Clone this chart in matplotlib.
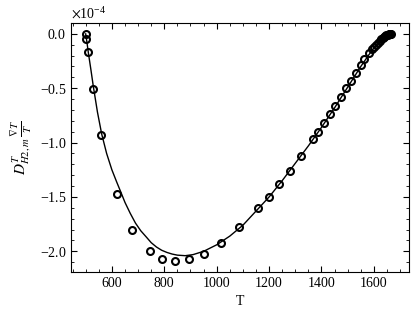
import matplotlib
matplotlib.use("Agg")
import matplotlib.pyplot as plt
from matplotlib.ticker import AutoMinorLocator

plt.rcParams['font.family'] = ['Liberation Serif', 'DejaVu Serif']
plt.rcParams['mathtext.fontset'] = 'stix'
plt.rcParams['font.size'] = 10

# scatter data (values in units of 1e-4)
T_pts = [500, 503, 508, 529, 558, 618, 676, 744, 793, 842, 894, 952, 1015, 1085,
         1158, 1199, 1239, 1279, 1323, 1368, 1387, 1410, 1432, 1452, 1473, 1493,
         1512, 1530, 1549, 1564, 1581, 1594, 1600, 1608, 1615, 1622, 1628, 1634,
         1639, 1644, 1648, 1652, 1656, 1660, 1663, 1666]
V_pts = [0.0, -0.046, -0.166, -0.51, -0.927, -1.47, -1.80, -1.995, -2.07, -2.09,
         -2.07, -2.02, -1.92, -1.78, -1.60, -1.50, -1.38, -1.26, -1.12, -0.97,
         -0.90, -0.82, -0.74, -0.66, -0.577, -0.50, -0.43, -0.356, -0.29, -0.233,
         -0.178, -0.138, -0.12, -0.10, -0.08, -0.065, -0.05, -0.038, -0.028,
         -0.02, -0.013, -0.008, -0.004, -0.002, -0.001, 0.0]

# model line
T_line = [500, 505, 510, 520, 529, 545, 561, 580, 600, 618, 635, 650, 670, 690,
          710, 732, 750, 770, 790, 810, 830, 850, 880, 910, 950, 1000, 1050,
          1100, 1150, 1200, 1250, 1300, 1350, 1400, 1450, 1500, 1550, 1580,
          1600, 1615, 1630, 1640, 1650, 1660, 1667]
V_line = [0.0, -0.08, -0.17, -0.33, -0.48, -0.72, -0.92, -1.10, -1.25, -1.36,
          -1.46, -1.55, -1.65, -1.74, -1.81, -1.87, -1.92, -1.96, -1.99, -2.01,
          -2.025, -2.035, -2.04, -2.03, -2.00, -1.94, -1.86, -1.76, -1.63, -1.50,
          -1.35, -1.19, -1.03, -0.86, -0.68, -0.49, -0.30, -0.195, -0.13, -0.085,
          -0.05, -0.03, -0.015, -0.005, 0.0]

scale = 1e-4
fig = plt.figure(figsize=(4.16, 3.19), dpi=100)
ax = fig.add_axes([71/416, 47/319, 338/416, 249/319])
ax.plot(T_line, [v * scale for v in V_line], color='black', lw=1.0)
ax.plot(T_pts, [v * scale for v in V_pts], 'o', mfc='none', mec='black',
        ms=5, mew=1.5)

ax.set_xlim(444, 1734)
ax.set_ylim(-2.19e-4, 0.10e-4)
ax.set_xticks([600, 800, 1000, 1200, 1400, 1600])
ax.set_yticks([-2.0e-4, -1.5e-4, -1.0e-4, -0.5e-4, 0.0])
ax.ticklabel_format(axis='y', style='sci', scilimits=(-4, -4), useMathText=True)
ax.xaxis.set_minor_locator(AutoMinorLocator(4))
ax.yaxis.set_minor_locator(AutoMinorLocator(5))
ax.tick_params(which='both', direction='in', top=True, right=True)
ax.tick_params(which='major', length=4)
ax.tick_params(which='minor', length=2)
ax.set_xlabel('T')
ax.set_ylabel(r'$D^T_{H2,m}\,\frac{\nabla T}{T}$', fontsize=11)

fig.savefig('out.png', dpi=100)
